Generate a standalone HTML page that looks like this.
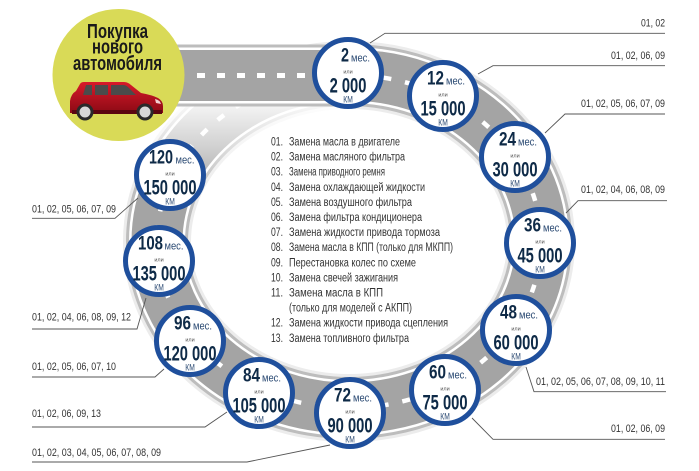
<!DOCTYPE html>
<html><head><meta charset="utf-8"><style>
html,body{margin:0;padding:0;background:#fff;}
svg{display:block;}
text{font-family:"Liberation Sans","DejaVu Sans",sans-serif;}
.lbl{font-size:11px;fill:#333;}
.lst{font-size:11.5px;fill:#333;}
.num{font-size:19px;font-weight:bold;fill:#0e2a47;}
.km{font-size:21px;font-weight:bold;fill:#0e2a47;}
.mes{font-size:11px;fill:#2b4a73;}
.ili{font-size:5.5px;fill:#555;}
.kmu{font-size:9px;fill:#2b4a73;}
</style></head><body>
<svg width="699" height="471" viewBox="0 0 699 471" xmlns="http://www.w3.org/2000/svg">
<defs>
<linearGradient id="fade" x1="0" y1="100" x2="0" y2="192" gradientUnits="userSpaceOnUse">
<stop offset="0" stop-color="#fff" stop-opacity="0.93"/>
<stop offset="0.5" stop-color="#fff" stop-opacity="0.5"/>
<stop offset="1" stop-color="#fff" stop-opacity="0"/>
</linearGradient>
<linearGradient id="carbody" x1="0" y1="0" x2="0" y2="1">
<stop offset="0" stop-color="#d81a2a"/><stop offset="1" stop-color="#8c0a15"/>
</linearGradient>
</defs>
<rect width="699" height="471" fill="#fff"/>

<!-- ring road -->
<g fill="none">
<ellipse cx="349" cy="241.5" rx="192" ry="166.5" stroke="#ececec" stroke-width="68"/>
<ellipse cx="349" cy="241.5" rx="192" ry="166.5" stroke="#bdbdbd" stroke-width="62"/>
<ellipse cx="349" cy="241.5" rx="192" ry="166.5" stroke="#ffffff" stroke-width="56"/>
<ellipse cx="349" cy="241.5" rx="192" ry="166.5" stroke="#a4a4a4" stroke-width="51"/>
<ellipse cx="349" cy="241.5" rx="192" ry="166.5" stroke="#ffffff" stroke-width="4.5" stroke-dasharray="8 14"/>
</g>
<rect x="120" y="100" width="228" height="95" fill="url(#fade)"/>

<!-- straight road -->
<g fill="none">
<line x1="172" y1="75.5" x2="349" y2="75.5" stroke="#bdbdbd" stroke-width="62"/>
<line x1="172" y1="75.5" x2="349" y2="75.5" stroke="#ffffff" stroke-width="56"/>
<line x1="172" y1="75.5" x2="349" y2="75.5" stroke="#a4a4a4" stroke-width="51"/>
<line x1="197" y1="75.5" x2="349" y2="75.5" stroke="#ffffff" stroke-width="5" stroke-dasharray="8 12"/>
</g>

<!-- yellow badge -->
<circle cx="118.5" cy="75" r="66" fill="#d9da57"/>
<text x="87" y="38" font-size="20" font-weight="bold" fill="#1a1a1a" textLength="61" lengthAdjust="spacingAndGlyphs">Покупка</text>
<text x="92" y="53.5" font-size="20" font-weight="bold" fill="#1a1a1a" textLength="51" lengthAdjust="spacingAndGlyphs">нового</text>
<text x="73" y="70" font-size="20" font-weight="bold" fill="#1a1a1a" textLength="89" lengthAdjust="spacingAndGlyphs">автомобиля</text>
<!-- car -->
<path d="M70,113 L70,101 Q71,94 76,91 L80,84 Q81,82 84,82 L124,82 Q128,82 131,85 L141,93 Q152,95 158,98 Q163,101 163,106 L163,113 Z" fill="url(#carbody)"/>
<path d="M86,85 L92,85 L92,95 L83,95 Z M95,85 L108,85 L108,95 L95,95 Z M111,85 L123,85 Q126,85 129,88 L136,95 L111,95 Z" fill="#4b4b4b"/>
<path d="M155,99 Q160,100 161,104 L156,103 Z" fill="#f2d0d0"/>
<rect x="72" y="110" width="90" height="4" fill="#5a0610"/>
<circle cx="85" cy="112" r="8.5" fill="#2a2a2a"/><circle cx="85" cy="112" r="5.5" fill="#d8d8d8"/>
<circle cx="145" cy="112" r="8.5" fill="#2a2a2a"/><circle cx="145" cy="112" r="5.5" fill="#d8d8d8"/>

<!-- leader lines -->
<g fill="none" stroke="#555" stroke-width="0.9">
<polyline points="665,33.3 385,33.3 370,43"/>
<polyline points="665,65.7 493,65.7 478,74"/>
<polyline points="665,114 565,114 545,133"/>
<polyline points="667,200.7 578,200.7 566,213"/>
<polyline points="666,391.7 534,391.7 526,367"/>
<polyline points="665,439.3 493,439.3 472,418"/>
<polyline points="32,218.3 115,218.3 138,198"/>
<polyline points="32,329 137,329 146,298"/>
<polyline points="32,377 155,377 164,369"/>
<polyline points="32,427 205,427 227,412"/>
<polyline points="32,462 247,462 330,445"/>
</g>

<!-- labels -->
<g class="lbl">
<text x="641" y="26.5" textLength="24" lengthAdjust="spacingAndGlyphs">01, 02</text>
<text x="611" y="59" textLength="54" lengthAdjust="spacingAndGlyphs">01, 02, 06, 09</text>
<text x="581" y="107" textLength="84" lengthAdjust="spacingAndGlyphs">01, 02, 05, 06, 07, 09</text>
<text x="581" y="193" textLength="84" lengthAdjust="spacingAndGlyphs">01, 02, 04, 06, 08, 09</text>
<text x="536" y="385" textLength="129" lengthAdjust="spacingAndGlyphs">01, 02, 05, 06, 07, 08, 09, 10, 11</text>
<text x="611" y="432" textLength="54" lengthAdjust="spacingAndGlyphs">01, 02, 06, 09</text>
<text x="32" y="212.5" textLength="84" lengthAdjust="spacingAndGlyphs">01, 02, 05, 06, 07, 09</text>
<text x="32" y="320.5" textLength="99" lengthAdjust="spacingAndGlyphs">01, 02, 04, 06, 08, 09, 12</text>
<text x="32" y="370" textLength="84" lengthAdjust="spacingAndGlyphs">01, 02, 05, 06, 07, 10</text>
<text x="32" y="417" textLength="69" lengthAdjust="spacingAndGlyphs">01, 02, 06, 09, 13</text>
<text x="32" y="456" textLength="129" lengthAdjust="spacingAndGlyphs">01, 02, 03, 04, 05, 06, 07, 08, 09</text>
</g>

<!-- list -->
<g class="lst">
<text x="271" y="145.5" textLength="12" lengthAdjust="spacingAndGlyphs">01.</text><text x="289" y="145.5" textLength="111" lengthAdjust="spacingAndGlyphs">Замена масла в двигателе</text>
<text x="271" y="160.6" textLength="12" lengthAdjust="spacingAndGlyphs">02.</text><text x="289" y="160.6" textLength="116" lengthAdjust="spacingAndGlyphs">Замена масляного фильтра</text>
<text x="271" y="175.7" textLength="12" lengthAdjust="spacingAndGlyphs">03.</text><text x="289" y="175.7" textLength="96" lengthAdjust="spacingAndGlyphs">Замена приводного ремня</text>
<text x="271" y="190.8" textLength="12" lengthAdjust="spacingAndGlyphs">04.</text><text x="289" y="190.8" textLength="136" lengthAdjust="spacingAndGlyphs">Замена охлаждающей жидкости</text>
<text x="271" y="205.9" textLength="12" lengthAdjust="spacingAndGlyphs">05.</text><text x="289" y="205.9" textLength="123" lengthAdjust="spacingAndGlyphs">Замена воздушного фильтра</text>
<text x="271" y="221" textLength="12" lengthAdjust="spacingAndGlyphs">06.</text><text x="289" y="221" textLength="133" lengthAdjust="spacingAndGlyphs">Замена фильтра кондиционера</text>
<text x="271" y="236.1" textLength="12" lengthAdjust="spacingAndGlyphs">07.</text><text x="289" y="236.1" textLength="151" lengthAdjust="spacingAndGlyphs">Замена жидкости привода тормоза</text>
<text x="271" y="251.2" textLength="12" lengthAdjust="spacingAndGlyphs">08.</text><text x="289" y="251.2" textLength="164" lengthAdjust="spacingAndGlyphs">Замена масла в КПП (только для МКПП)</text>
<text x="271" y="266.3" textLength="12" lengthAdjust="spacingAndGlyphs">09.</text><text x="289" y="266.3" textLength="127" lengthAdjust="spacingAndGlyphs">Перестановка колес по схеме</text>
<text x="271" y="281.4" textLength="12" lengthAdjust="spacingAndGlyphs">10.</text><text x="289" y="281.4" textLength="109" lengthAdjust="spacingAndGlyphs">Замена свечей зажигания</text>
<text x="271" y="296.5" textLength="12" lengthAdjust="spacingAndGlyphs">11.</text><text x="289" y="296.5" textLength="94" lengthAdjust="spacingAndGlyphs">Замена масла в КПП</text>
<text x="289" y="311.6" textLength="123" lengthAdjust="spacingAndGlyphs">(только для моделей с АКПП)</text>
<text x="271" y="326.7" textLength="12" lengthAdjust="spacingAndGlyphs">12.</text><text x="289" y="326.7" textLength="159" lengthAdjust="spacingAndGlyphs">Замена жидкости привода сцепления</text>
<text x="271" y="341.8" textLength="12" lengthAdjust="spacingAndGlyphs">13.</text><text x="289" y="341.8" textLength="120" lengthAdjust="spacingAndGlyphs">Замена топливного фильтра</text>
</g>

<!-- milestone circles -->
<g fill="#fff" stroke="#1f4f9c" stroke-width="5">
<circle cx="348" cy="73" r="33.5"/>
<circle cx="443" cy="96" r="33.5"/>
<circle cx="515" cy="157" r="33.5"/>
<circle cx="540" cy="243" r="33.5"/>
<circle cx="516" cy="330" r="33.5"/>
<circle cx="445" cy="390" r="33.5"/>
<circle cx="350" cy="413" r="33.5"/>
<circle cx="259" cy="393" r="33.5"/>
<circle cx="190" cy="341" r="33.5"/>
<circle cx="159" cy="261" r="33.5"/>
<circle cx="170" cy="175" r="33.5"/>
</g>

<!-- circle texts -->
<g>
<!-- 2 -->
<text class="num" x="341" y="61.5" textLength="8" lengthAdjust="spacingAndGlyphs">2</text>
<text class="mes" x="351" y="61.5" textLength="19" lengthAdjust="spacingAndGlyphs">мес.</text>
<text class="ili" x="348" y="73.5" text-anchor="middle">или</text>
<text class="km" x="329.6" y="92.5" textLength="36.8" lengthAdjust="spacingAndGlyphs">2 000</text>
<text class="kmu" x="343.3" y="102.5" textLength="9.5" lengthAdjust="spacingAndGlyphs">КМ</text>
<!-- 12 -->
<text class="num" x="427" y="84.5" textLength="17" lengthAdjust="spacingAndGlyphs">12</text>
<text class="mes" x="446" y="84.5" textLength="19" lengthAdjust="spacingAndGlyphs">мес.</text>
<text class="ili" x="443" y="96.5" text-anchor="middle">или</text>
<text class="km" x="420.5" y="115.5" textLength="45" lengthAdjust="spacingAndGlyphs">15 000</text>
<text class="kmu" x="438.3" y="125.5" textLength="9.5" lengthAdjust="spacingAndGlyphs">КМ</text>
<!-- 24 -->
<text class="num" x="499" y="145.5" textLength="17" lengthAdjust="spacingAndGlyphs">24</text>
<text class="mes" x="518" y="145.5" textLength="19" lengthAdjust="spacingAndGlyphs">мес.</text>
<text class="ili" x="515" y="157.5" text-anchor="middle">или</text>
<text class="km" x="492.5" y="176.5" textLength="45" lengthAdjust="spacingAndGlyphs">30 000</text>
<text class="kmu" x="510.3" y="186.5" textLength="9.5" lengthAdjust="spacingAndGlyphs">КМ</text>
<!-- 36 -->
<text class="num" x="524" y="231.5" textLength="17" lengthAdjust="spacingAndGlyphs">36</text>
<text class="mes" x="543" y="231.5" textLength="19" lengthAdjust="spacingAndGlyphs">мес.</text>
<text class="ili" x="540" y="243.5" text-anchor="middle">или</text>
<text class="km" x="517.5" y="262.5" textLength="45" lengthAdjust="spacingAndGlyphs">45 000</text>
<text class="kmu" x="535.3" y="272.5" textLength="9.5" lengthAdjust="spacingAndGlyphs">КМ</text>
<!-- 48 -->
<text class="num" x="500" y="318.5" textLength="17" lengthAdjust="spacingAndGlyphs">48</text>
<text class="mes" x="519" y="318.5" textLength="19" lengthAdjust="spacingAndGlyphs">мес.</text>
<text class="ili" x="516" y="330.5" text-anchor="middle">или</text>
<text class="km" x="493.5" y="349.5" textLength="45" lengthAdjust="spacingAndGlyphs">60 000</text>
<text class="kmu" x="511.3" y="359.5" textLength="9.5" lengthAdjust="spacingAndGlyphs">КМ</text>
<!-- 60 -->
<text class="num" x="429" y="378.5" textLength="17" lengthAdjust="spacingAndGlyphs">60</text>
<text class="mes" x="448" y="378.5" textLength="19" lengthAdjust="spacingAndGlyphs">мес.</text>
<text class="ili" x="445" y="390.5" text-anchor="middle">или</text>
<text class="km" x="422.5" y="409.5" textLength="45" lengthAdjust="spacingAndGlyphs">75 000</text>
<text class="kmu" x="440.3" y="419.5" textLength="9.5" lengthAdjust="spacingAndGlyphs">КМ</text>
<!-- 72 -->
<text class="num" x="334" y="401.5" textLength="17" lengthAdjust="spacingAndGlyphs">72</text>
<text class="mes" x="353" y="401.5" textLength="19" lengthAdjust="spacingAndGlyphs">мес.</text>
<text class="ili" x="350" y="413.5" text-anchor="middle">или</text>
<text class="km" x="327.5" y="432.5" textLength="45" lengthAdjust="spacingAndGlyphs">90 000</text>
<text class="kmu" x="345.3" y="442.5" textLength="9.5" lengthAdjust="spacingAndGlyphs">КМ</text>
<!-- 84 -->
<text class="num" x="243" y="381.5" textLength="17" lengthAdjust="spacingAndGlyphs">84</text>
<text class="mes" x="262" y="381.5" textLength="19" lengthAdjust="spacingAndGlyphs">мес.</text>
<text class="ili" x="259" y="393.5" text-anchor="middle">или</text>
<text class="km" x="232.5" y="412.5" textLength="53" lengthAdjust="spacingAndGlyphs">105 000</text>
<text class="kmu" x="254.3" y="422.5" textLength="9.5" lengthAdjust="spacingAndGlyphs">КМ</text>
<!-- 96 -->
<text class="num" x="174" y="329.5" textLength="17" lengthAdjust="spacingAndGlyphs">96</text>
<text class="mes" x="193" y="329.5" textLength="19" lengthAdjust="spacingAndGlyphs">мес.</text>
<text class="ili" x="190" y="341.5" text-anchor="middle">или</text>
<text class="km" x="163.5" y="360.5" textLength="53" lengthAdjust="spacingAndGlyphs">120 000</text>
<text class="kmu" x="185.3" y="370.5" textLength="9.5" lengthAdjust="spacingAndGlyphs">КМ</text>
<!-- 108 -->
<text class="num" x="138" y="249.5" textLength="25" lengthAdjust="spacingAndGlyphs">108</text>
<text class="mes" x="164.5" y="249.5" textLength="19" lengthAdjust="spacingAndGlyphs">мес.</text>
<text class="ili" x="159" y="261.5" text-anchor="middle">или</text>
<text class="km" x="132.5" y="280.5" textLength="53" lengthAdjust="spacingAndGlyphs">135 000</text>
<text class="kmu" x="154.3" y="290.5" textLength="9.5" lengthAdjust="spacingAndGlyphs">КМ</text>
<!-- 120 -->
<text class="num" x="149" y="163.5" textLength="24" lengthAdjust="spacingAndGlyphs">120</text>
<text class="mes" x="175.5" y="163.5" textLength="19" lengthAdjust="spacingAndGlyphs">мес.</text>
<text class="ili" x="170" y="175.5" text-anchor="middle">или</text>
<text class="km" x="143.5" y="194.5" textLength="53" lengthAdjust="spacingAndGlyphs">150 000</text>
<text class="kmu" x="165.3" y="204.5" textLength="9.5" lengthAdjust="spacingAndGlyphs">КМ</text>
</g>
</svg>
</body></html>
